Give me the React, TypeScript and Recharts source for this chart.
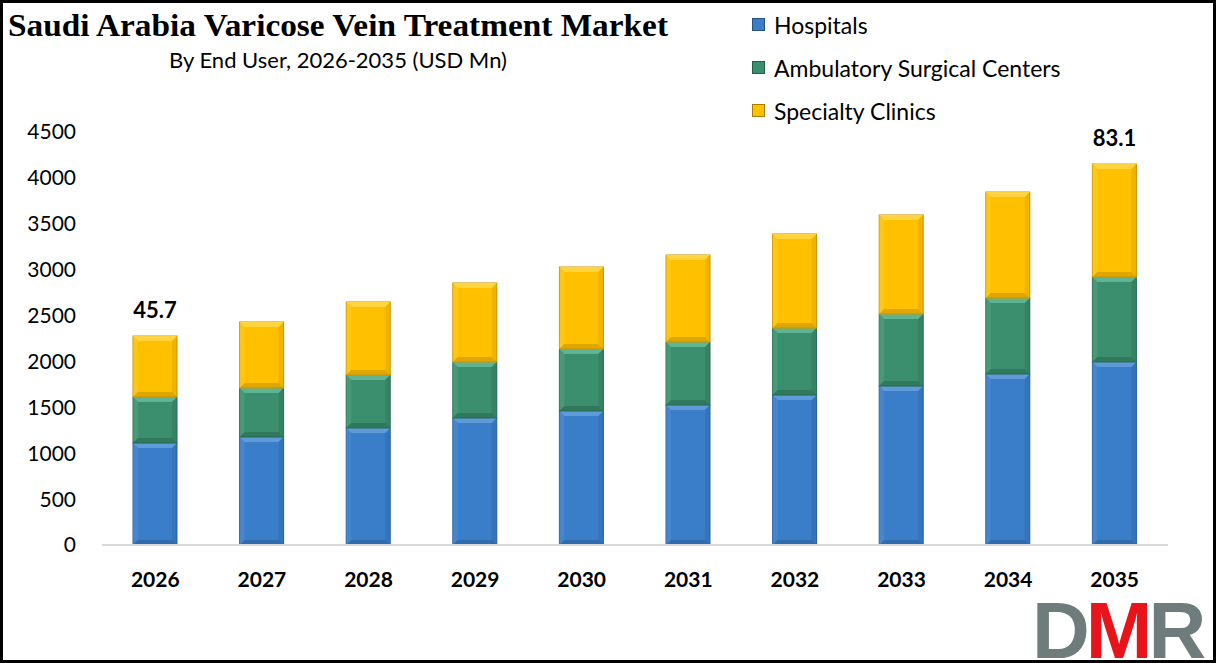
import React from "react";
import { BarChart, Bar, XAxis, YAxis, Legend, LabelList } from "recharts";

const years = ["2026", "2027", "2028", "2029", "2030", "2031", "2032", "2033", "2034", "2035"];
const hospitals = [1111, 1177, 1275, 1384, 1460, 1525, 1634, 1732, 1863, 1994];
const ambulatory = [502, 534, 577, 610, 676, 687, 730, 785, 828, 926];
const specialty = [664, 719, 796, 861, 893, 948, 1025, 1079, 1155, 1231];
const topLabels = ["45.7", "", "", "", "", "", "", "", "", "83.1"];
const yTicks = [0, 500, 1000, 1500, 2000, 2500, 3000, 3500, 4000, 4500];

const SERIES = [
  { key: "hospitals", name: "Hospitals", fill: "#3a7dc8", light: "#5f9ad9", dark: "#2a5f9c" },
  { key: "ambulatory", name: "Ambulatory Surgical Centers", fill: "#3b8f6e", light: "#5fb593", dark: "#2a6a51" },
  { key: "specialty", name: "Specialty Clinics", fill: "#ffc000", light: "#ffd440", dark: "#c99400" },
];

const data = years.map((year, i) => ({
  year,
  hospitals: hospitals[i],
  ambulatory: ambulatory[i],
  specialty: specialty[i],
  label: topLabels[i],
}));

const SANS = "Lato, 'Open Sans', sans-serif";

// excel-ish bevelled bar segment
function BevelBar(props: any) {
  const { x, y, width, height, fill, light, dark } = props;
  if (!height || height <= 0) return null;
  const b = Math.min(5, height / 2, width / 2);
  const r = x + width;
  const bt = y + height;
  return (
    <g>
      <rect x={x} y={y} width={width} height={height} fill={fill} stroke={dark} strokeWidth={1} />
      <polygon points={`${x},${y} ${r},${y} ${r - b},${y + b} ${x + b},${y + b}`} fill={light} />
      <polygon points={`${x},${y} ${x + b},${y + b} ${x + b},${bt - b} ${x},${bt}`} fill={light} opacity={0.3} />
      <polygon points={`${r},${y} ${r - b},${y + b} ${r - b},${bt - b} ${r},${bt}`} fill={dark} opacity={0.3} />
      <polygon points={`${x},${bt} ${x + b},${bt - b} ${r - b},${bt - b} ${r},${bt}`} fill={dark} opacity={0.6} />
    </g>
  );
}

function LegendBox({ payload }: any) {
  const items = SERIES.map((s) => ({
    name: s.name,
    color: (payload || []).find((p: any) => p.value === s.name)?.color || s.fill,
  }));
  return (
    <div style={{ fontFamily: SANS, fontSize: 23, color: "#000", textAlign: "left" }}>
      {items.map((p) => (
        <div key={p.name} style={{ display: "flex", alignItems: "center", height: 43 }}>
          <span
            style={{
              display: "inline-block",
              width: 11,
              height: 11,
              background: p.color,
              border: "1px solid rgba(0,0,0,0.35)",
              marginRight: 9,
            }}
          />
          <span>{p.name}</span>
        </div>
      ))}
    </div>
  );
}

export default function App() {
  return (
    <div style={{ position: "absolute", left: 0, top: 0, width: 1216, height: 663, background: "#fff", overflow: "hidden" }}>
      <svg width={700} height={80} style={{ position: "absolute", left: 0, top: 0 }}>
        <text
          x={8}
          y={36}
          textLength={660}
          lengthAdjust="spacingAndGlyphs"
          fontFamily="'Liberation Serif', 'Times New Roman', serif"
          fontWeight="bold"
          fontSize={31}
          fill="#000"
        >
          Saudi Arabia Varicose Vein Treatment Market
        </text>
        <text x={338} y={68} textAnchor="middle" fontFamily={SANS} fontSize={22} fill="#000">
          By End User, 2026-2035 (USD Mn)
        </text>
      </svg>

      <BarChart
        width={1216}
        height={663}
        data={data}
        margin={{ top: 132, right: 48, bottom: 78, left: 12 }}
        barSize={44}
        style={{ position: "absolute", left: 0, top: 0 }}
      >
        <XAxis
          dataKey="year"
          axisLine={{ stroke: "#d9d9d9", strokeWidth: 2 }}
          tickLine={false}
          tickSize={0}
          tickMargin={27}
          height={40}
          tick={{ fontFamily: SANS, fontSize: 21, fontWeight: 700, fill: "#000" }}
        />
        <YAxis
          domain={[0, 4500]}
          ticks={yTicks}
          width={90}
          axisLine={false}
          tickLine={false}
          tickSize={0}
          tickMargin={26}
          tick={{ fontFamily: SANS, fontSize: 21, fill: "#000" }}
        />
        <Legend
          layout="horizontal"
          verticalAlign="middle"
          align="center"
          content={<LegendBox />}
          wrapperStyle={{ position: "absolute", left: 752, top: 3, width: 400 }}
        />
        {SERIES.map((s, i) => (
          <Bar
            key={s.key}
            dataKey={s.key}
            name={s.name}
            stackId="a"
            fill={s.fill}
            isAnimationActive={false}
            shape={(p: any) => <BevelBar {...p} fill={s.fill} light={s.light} dark={s.dark} />}
          >
            {i === SERIES.length - 1 && (
              <LabelList
                dataKey="label"
                position="top"
                offset={18}
                fill="#000"
                fontFamily={SANS}
                fontSize={22}
                fontWeight={700}
              />
            )}
          </Bar>
        ))}
      </BarChart>

      <svg width={200} height={75} style={{ position: "absolute", left: 1020, top: 588 }}>
        <text
          x={12}
          y={70}
          fontFamily="'Liberation Sans', Arial, sans-serif"
          fontWeight="bold"
          fontSize={80}
          letterSpacing={-4}
        >
          <tspan fill="#6f7c7c">D</tspan>
          <tspan fill="#e8141b">M</tspan>
          <tspan fill="#6f7c7c">R</tspan>
        </text>
      </svg>

      <div
        style={{
          position: "absolute",
          left: 0,
          top: 0,
          width: 1216,
          height: 663,
          boxSizing: "border-box",
          border: "3px solid #000",
          pointerEvents: "none",
        }}
      />
    </div>
  );
}
